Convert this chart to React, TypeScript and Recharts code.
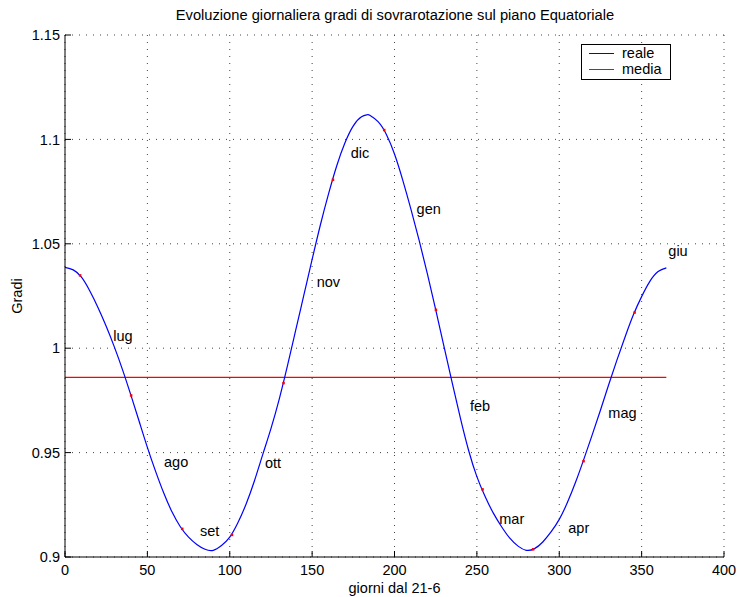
import React from 'react';
import {
  ComposedChart, Line, Scatter, XAxis, YAxis, CartesianGrid,
} from 'recharts';

// curve (day since 21-6, gradi)
const days = [0, 5, 10, 15, 20, 25, 30, 35, 40, 45, 50, 55, 60, 65, 70, 75, 80, 85, 90, 95, 100, 105, 110, 115, 120, 125, 130, 135, 140, 145, 150, 155, 160, 165, 170, 175, 180, 183.5, 185, 190, 195, 200, 205, 210, 215, 220, 225, 230, 235, 240, 245, 250, 255, 260, 265, 270, 275, 280, 285, 290, 295, 300, 305, 310, 315, 320, 325, 330, 335, 340, 345, 350, 355, 360, 365];
const reale = [1.0387, 1.0375, 1.034, 1.0275, 1.0195, 1.0105, 1.0005, 0.9895, 0.9775, 0.965, 0.9525, 0.941, 0.9305, 0.9215, 0.9145, 0.9095, 0.906, 0.9037, 0.9032, 0.9055, 0.9095, 0.9165, 0.9255, 0.9365, 0.949, 0.9615, 0.9755, 0.9915, 1.0085, 1.0255, 1.0425, 1.059, 1.074, 1.0875, 1.0985, 1.1065, 1.1108, 1.1118, 1.1116, 1.1085, 1.1025, 1.093, 1.0805, 1.0665, 1.0515, 1.0355, 1.0185, 1.001, 0.9835, 0.9665, 0.951, 0.9385, 0.929, 0.921, 0.9145, 0.909, 0.9052, 0.9032, 0.904, 0.9072, 0.912, 0.918, 0.9262, 0.936, 0.947, 0.9585, 0.9703, 0.9825, 0.9943, 1.0055, 1.016, 1.0247, 1.032, 1.0367, 1.0385];

const mediaDays = [0, 365];
const media = 0.986;

// red markers on the first of each month
const markDays = [9, 40, 71, 101.2, 132.5, 162.5, 193.6, 225, 253.3, 284, 314.6, 345.6];
const markVals = [1.035, 0.9775, 0.9136, 0.9107, 0.9834, 1.0808, 1.1046, 1.0185, 0.9325, 0.9038, 0.946, 1.0172];

const months = ['lug', 'ago', 'set', 'ott', 'nov', 'dic', 'gen', 'feb', 'mar', 'apr', 'mag', 'giu'];
const labelDays = [29.3, 60.1, 81.9, 121.4, 152.8, 173.4, 213.4, 245.8, 263.6, 305.5, 329.8, 366.2];
const labelVals = [1.0058, 0.9456, 0.9125, 0.9452, 1.0319, 1.0933, 1.0665, 0.9723, 0.9182, 0.914, 0.969, 1.0467];

const xTicks = [0, 50, 100, 150, 200, 250, 300, 350, 400];
const yTicks = [0.9, 0.95, 1, 1.05, 1.1, 1.15];

const curveData = days.map((d, i) => ({day: d, value: reale[i]}));
const mediaData = mediaDays.map(d => ({day: d, value: media}));
const markData = markDays.map((d, i) => ({day: d, value: markVals[i]}));
const labelData = months.map((m, i) => ({day: labelDays[i], value: labelVals[i], name: m}));

const font = '"Liberation Sans", Arial, sans-serif';
const fs = 14.5;
const tickStyle = {fontSize: fs, fill: '#000', fontFamily: font};

const MarkShape = (p: any) => (
  <rect x={p.cx - 1} y={p.cy - 1} width={2.5} height={2.5} fill="#ff0000"/>
);

const LabelShape = (p: any) => (
  <text x={p.cx} y={p.cy} dy="0.35em" fontSize={fs} fontFamily={font} fill="#000">
    {p.payload.name}
  </text>
);

export default function App() {
  return (
    <div style={{position: 'absolute', left: 0, top: 0, width: 740, height: 597, background: '#fff', fontFamily: font}}>
      <div style={{position: 'absolute', left: 45, width: 700, top: 7, textAlign: 'center', fontSize: 14.7, whiteSpace: 'nowrap'}}>
        Evoluzione giornaliera gradi di sovrarotazione sul piano Equatoriale
      </div>
      <ComposedChart width={740} height={597} margin={{top: 35, right: 16, bottom: 0, left: 0}}>
        <CartesianGrid stroke="#444" strokeDasharray="1 6"/>
        <XAxis
          dataKey="day" type="number" domain={[0, 400]} ticks={xTicks} allowDataOverflow
          height={40} stroke="#000" tickSize={-6} tickMargin={14} tick={tickStyle}
          label={{value: 'giorni dal 21-6', position: 'insideBottom', offset: 4, style: {fontSize: fs, fill: '#000', fontFamily: font}}}
        />
        <XAxis
          xAxisId="top" orientation="top" dataKey="day" type="number" domain={[0, 400]} ticks={xTicks}
          height={0} stroke="#000" tickSize={-6} tick={false}
        />
        <YAxis
          type="number" domain={[0.9, 1.15]} ticks={yTicks} allowDataOverflow
          width={65} stroke="#000" tickSize={-6} tickMargin={11} tick={tickStyle}
          label={{value: 'Gradi', angle: -90, position: 'insideLeft', offset: 17, style: {fontSize: fs, fill: '#000', fontFamily: font, textAnchor: 'middle'}}}
        />
        <YAxis
          yAxisId="right" orientation="right" type="number" domain={[0.9, 1.15]} ticks={yTicks}
          width={0} stroke="#000" tickSize={-6} tick={false}
        />
        <Line data={mediaData} dataKey="value" stroke="#ff0000" strokeWidth={1.2} dot={false} isAnimationActive={false}/>
        <Line data={curveData} dataKey="value" type="natural" stroke="#0000ff" strokeWidth={1.2} dot={false} isAnimationActive={false}/>
        <Scatter data={markData} dataKey="value" shape={MarkShape} isAnimationActive={false}/>
        <Scatter data={labelData} dataKey="value" shape={LabelShape} isAnimationActive={false}/>
      </ComposedChart>
      <div style={{position: 'absolute', left: 581, top: 44, width: 88, height: 34, border: '1px solid #000', background: '#fff', fontSize: fs, lineHeight: '17px'}}>
        <div style={{position: 'absolute', left: 7, top: 8, width: 25, height: 1.3, background: '#0000ff'}}/>
        <div style={{position: 'absolute', left: 40, top: 0}}>reale</div>
        <div style={{position: 'absolute', left: 7, top: 24, width: 25, height: 1.3, background: '#ff0000'}}/>
        <div style={{position: 'absolute', left: 40, top: 16}}>media</div>
      </div>
    </div>
  );
}
